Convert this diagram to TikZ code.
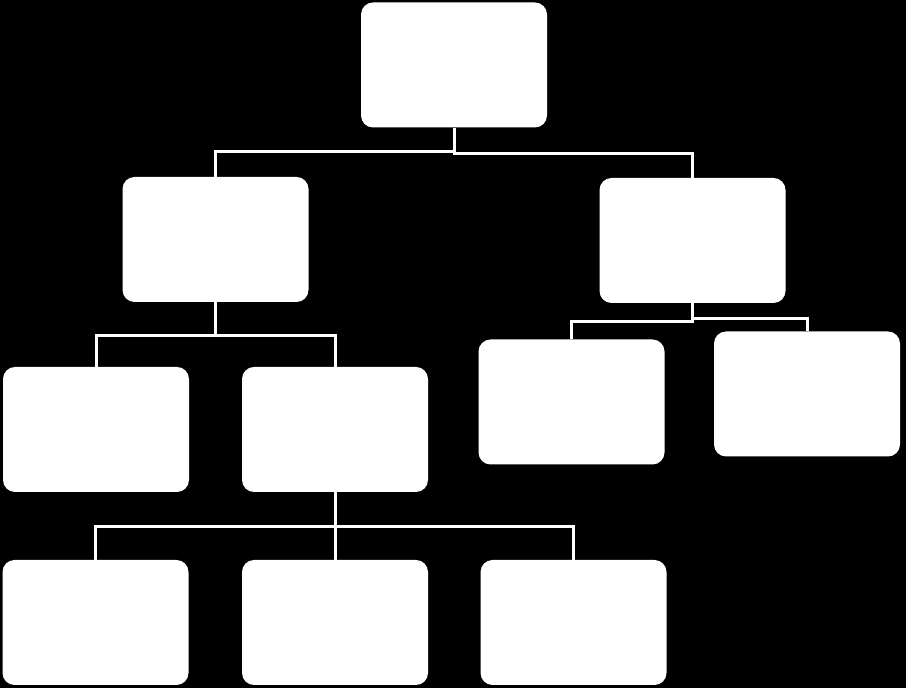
\documentclass[tikz,border=0pt]{standalone}
\begin{document}
\begin{tikzpicture}[x=1pt,y=1pt,
  box/.style={draw=none,fill=white,rounded corners=12pt,minimum width=186pt,minimum height=125pt,inner sep=0pt},
  conn/.style={draw=white,line width=3pt}]
\fill[black] (0,0) rectangle (906,688);
\useasboundingbox (0,0) rectangle (906,688);
\node[box] (root) at (454,623) {};
\node[box] (l1a) at (215.5,448.5) {};
\node[box] (l1b) at (692.5,447.5) {};
\node[box] (l2a) at (96,258.5) {};
\node[box] (l2b) at (335,258.5) {};
\node[box] (r2a) at (571.5,286) {};
\node[box] (r2b) at (807,294) {};
\node[box] (l3a) at (95.5,65.5) {};
\node[box] (l3b) at (335,65.5) {};
\node[box] (l3c) at (573.5,65.5) {};
\draw[conn] (root.south) -- ++(0,-24) -| (l1a.north);
\draw[conn] (root.south) -- ++(0,-26) -| (l1b.north);
\draw[conn] (l1a.south) -- ++(0,-33) -| (l2a.north);
\draw[conn] (l1a.south) -- ++(0,-33) -| (l2b.north);
\draw[conn] (l1b.south) -- ++(0,-18) -| (r2a.north);
\draw[conn] (l1b.south) -- ++(0,-15) -| (r2b.north);
\draw[conn] (l2b.south) -- ++(0,-34) -| (l3a.north);
\draw[conn] (l2b.south) -- (l3b.north);
\draw[conn] (l2b.south) -- ++(0,-34) -| (l3c.north);
\end{tikzpicture}
\end{document}
